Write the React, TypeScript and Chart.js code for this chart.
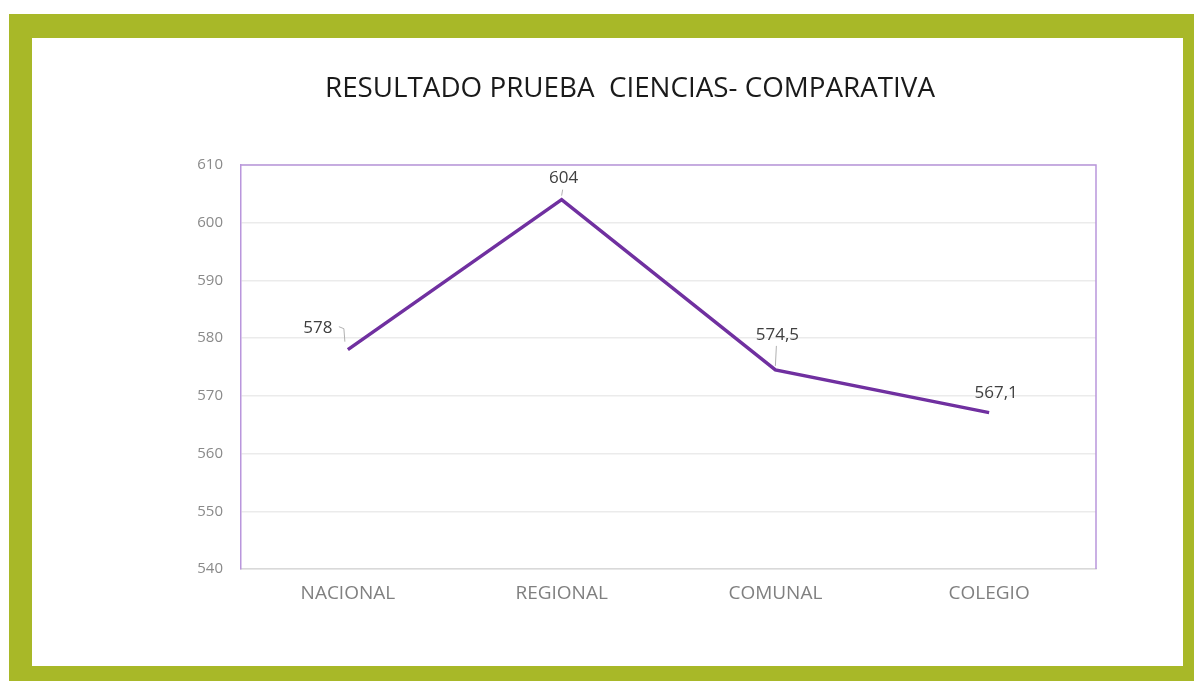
import React, { useEffect, useRef } from "react";
import { Chart, registerables } from "chart.js";

Chart.register(...registerables);

const TITLE = "RESULTADO PRUEBA  CIENCIAS- COMPARATIVA";
const categories = ["NACIONAL", "REGIONAL", "COMUNAL", "COLEGIO"];
const scores = [578, 604, 574.5, 567.1];
const yMin = 540;
const yMax = 610;
const yStep = 10;

// label placement offsets (px) relative to each point, plus leader flag
const labelOffsets = [
  { dx: -30, dy: -22, leader: "bracket" },
  { dx: 2, dy: -21, leader: "vertical" },
  { dx: 2, dy: -35, leader: "vertical" },
  { dx: 7, dy: -19, leader: "none" },
];

const LINE_COLOR = "#7030a0";
const BORDER_PURPLE = "#b996dc";
const FONT = "'Open Sans', 'Liberation Sans', sans-serif";
const TITLE_CENTER_X = 598;
const TITLE_BASELINE_Y = 59;
const TITLE_WIDTH = 610;

const fmt = (v: number) => String(v).replace(".", ",");

const titlePlugin = {
  id: "stretchedTitle",
  afterDraw(chart: any) {
    const { ctx } = chart;
    ctx.save();
    ctx.font = `28px ${FONT}`;
    ctx.fillStyle = "#1a1a1a";
    ctx.textBaseline = "alphabetic";
    ctx.textAlign = "center";
    const w = ctx.measureText(TITLE).width;
    const sx = TITLE_WIDTH / w;
    ctx.translate(TITLE_CENTER_X, TITLE_BASELINE_Y);
    ctx.scale(sx, 1);
    ctx.fillText(TITLE, 0, 0);
    ctx.restore();
  },
};

const framePlugin = {
  id: "frame",
  afterDraw(chart: any) {
    const { ctx, chartArea } = chart;
    ctx.save();
    ctx.strokeStyle = BORDER_PURPLE;
    ctx.lineWidth = 1.5;
    ctx.beginPath();
    ctx.moveTo(chartArea.left, chartArea.top);
    ctx.lineTo(chartArea.right, chartArea.top);
    ctx.lineTo(chartArea.right, chartArea.bottom);
    ctx.stroke();
    ctx.restore();
  },
};

const labelPlugin = {
  id: "valueLabels",
  afterDatasetsDraw(chart: any) {
    const { ctx } = chart;
    const meta = chart.getDatasetMeta(0);
    ctx.save();
    ctx.font = `17px ${FONT}`;
    ctx.fillStyle = "#404040";
    ctx.textAlign = "center";
    ctx.textBaseline = "middle";
    meta.data.forEach((pt: any, i: number) => {
      const off = labelOffsets[i];
      const tx = pt.x + off.dx;
      const ty = pt.y + off.dy;
      ctx.fillText(fmt(scores[i]), tx, ty);
      ctx.strokeStyle = "#b0b0b0";
      ctx.lineWidth = 1;
      if (off.leader === "bracket") {
        ctx.beginPath();
        ctx.moveTo(tx + 21, ty - 1);
        ctx.lineTo(tx + 26, ty + 1);
        ctx.lineTo(tx + 27, ty + 14);
        ctx.stroke();
      } else if (off.leader === "vertical") {
        ctx.beginPath();
        ctx.moveTo(pt.x + 1, ty + 11);
        ctx.lineTo(pt.x, pt.y - 4);
        ctx.stroke();
      }
    });
    ctx.restore();
  },
};

export default function App() {
  const ref = useRef<HTMLCanvasElement>(null);

  useEffect(() => {
    if (!ref.current) return;
    const chart = new Chart(ref.current, {
      type: "line",
      data: {
        labels: categories,
        datasets: [
          {
            data: scores,
            borderColor: LINE_COLOR,
            borderWidth: 3.5,
            pointRadius: 0,
            tension: 0,
            fill: false,
          },
        ],
      },
      options: {
        animation: false,
        responsive: false,
        maintainAspectRatio: false,
        layout: { padding: { left: 0, right: 87, top: 127, bottom: 0 } },
        plugins: {
          legend: { display: false },
          tooltip: { enabled: false },
          title: { display: false },
        },
        scales: {
          x: {
            offset: true,
            grid: { display: false, drawTicks: false },
            border: { color: "#d9d9d9", width: 1.5 },
            ticks: {
              color: "#808080",
              font: { family: FONT, size: 19 },
              padding: 13,
              maxRotation: 0,
            },
            afterFit: (s: any) => {
              s.height = 97;
            },
          },
          y: {
            min: yMin,
            max: yMax,
            ticks: {
              stepSize: yStep,
              color: "#8a8a8a",
              font: { family: FONT, size: 15 },
              padding: 18,
            },
            grid: { color: "#ebebeb", lineWidth: 1.5, drawTicks: false },
            border: { color: BORDER_PURPLE, width: 1.5 },
            afterFit: (s: any) => {
              s.width = 209;
            },
          },
        },
      },
      plugins: [framePlugin, labelPlugin, titlePlugin],
    });
    return () => chart.destroy();
  }, []);

  return (
    <div style={{ position: "absolute", left: 0, top: 0, width: 1194, height: 681, background: "#ffffff", overflow: "hidden" }}>
      <div style={{ position: "absolute", left: 9, top: 14, width: 1185, height: 667, background: "#a8b828" }} />
      <div style={{ position: "absolute", left: 32, top: 38, width: 1151, height: 628, background: "#ffffff" }}>
        <canvas ref={ref} width={1151} height={628} style={{ display: "block" }} />
      </div>
    </div>
  );
}
